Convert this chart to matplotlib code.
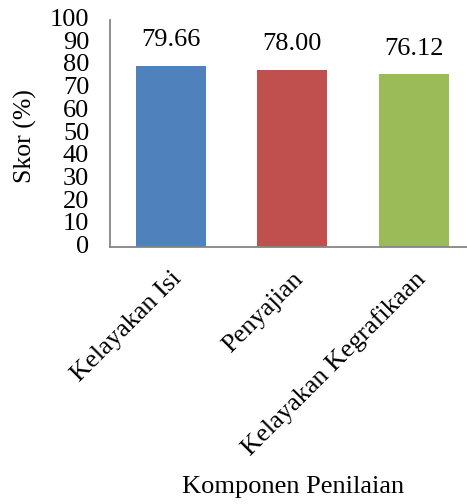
import matplotlib.pyplot as plt

plt.rcParams["font.family"] = ["Liberation Serif", "DejaVu Serif"]

components = ["Kelayakan Isi", "Penyajian", "Kelayakan Kegrafikaan"]
scores = [79.66, 78.00, 76.12]
colors = ["#4F81BD", "#C0504D", "#9BBB59"]
yticks = [0, 10, 20, 30, 40, 50, 60, 70, 80, 90, 100]

W, H = 467, 504
fig = plt.figure(figsize=(W / 100, H / 100), dpi=100)
# axes box in pixels: left 110, right ~474, top 20, bottom 247
ax = fig.add_axes([110 / W, 1 - 247 / H, 364.5 / W, 227 / H])

x = range(len(components))
ax.bar(x, scores, width=0.576, color=colors)
for xi, v in zip(x, scores):
    ax.annotate(f"{v:.2f}", (xi, v), xytext=(0, 18.5), textcoords="offset points",
                ha="center", va="center", fontsize=19)

ax.set_xlim(-0.5, 2.5)
ax.set_ylim(0, 100)
ax.set_yticks(yticks)
ax.tick_params(axis="y", length=0, labelsize=19, pad=15)
ax.tick_params(axis="x", length=0, pad=15)
for lbl in ax.get_yticklabels():
    lbl.set_verticalalignment("center")
ax.set_xticks(list(x))
ax.set_xticklabels(components, rotation=45, ha="right", va="top",
                   rotation_mode="anchor", fontsize=19)

for s in ["top", "right"]:
    ax.spines[s].set_visible(False)
for s in ["left", "bottom"]:
    ax.spines[s].set_color("#868686")
    ax.spines[s].set_linewidth(1.3)

fig.text(25 / W, 1 - 136 / H, "Skor (%)", rotation=90, ha="center", va="center", fontsize=18.5)
fig.text(293 / W, 1 - 487 / H, "Komponen Penilaian", ha="center", va="center", fontsize=19)

fig.savefig("out.png", dpi=100)
